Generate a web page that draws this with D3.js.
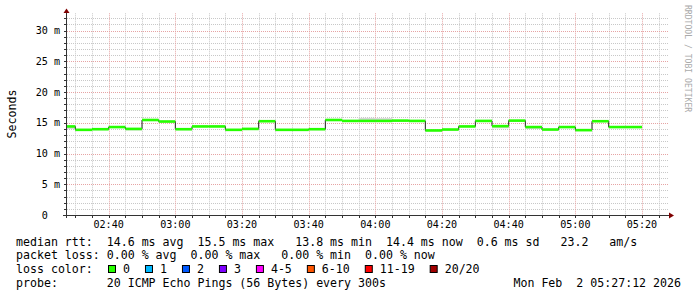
<!DOCTYPE html>
<html lang="en">
<head>
<meta charset="utf-8">
<script src="https://d3js.org/d3.v7.min.js"></script>
<style>
  body { margin: 0; background: #fff; }
  svg text { font-family: "DejaVu Sans Mono", monospace; white-space: pre; }
</style>
</head>
<body>
<svg width="697" height="297"></svg>
<script>
// 5 minute slots (start time of each step), median rtt in ms
const slots = ["02:25","02:30","02:35","02:40","02:45","02:50","02:55","03:00","03:05","03:10",
               "03:15","03:20","03:25","03:30","03:35","03:40","03:45","03:50","03:55","04:00",
               "04:05","04:10","04:15","04:20","04:25","04:30","04:35","04:40","04:45","04:50",
               "04:55","05:00","05:05","05:10","05:15"];
const median = [14.4, 13.85, 13.95, 14.3, 14.0, 15.45, 15.2, 13.95, 14.4, 14.4,
                13.85, 14.0, 15.25, 13.85, 13.85, 13.95, 15.45, 15.3, 15.3, 15.3,
                15.35, 15.3, 13.75, 13.9, 14.4, 15.3, 14.45, 15.35, 14.3, 13.9,
                14.3, 13.8, 15.25, 14.3, 14.3];
// smoke (spread of the pings) around the median
const smokeLo = [14.0, 13.75, 13.8, 14.2, 13.75, 15.35, 15.05, 13.8, 14.3, 14.3,
                 13.75, 13.9, 15.15, 13.75, 13.75, 13.8, 15.35, 15.2, 15.2, 15.2,
                 15.25, 15.2, 13.6, 13.75, 14.3, 15.2, 14.1, 15.2, 14.0, 13.75,
                 14.2, 13.7, 15.15, 14.2, 14.2];
const smokeHi = [14.5, 13.95, 14.1, 14.4, 14.1, 15.55, 15.35, 14.05, 14.5, 14.5,
                 13.95, 14.1, 15.35, 13.95, 13.95, 14.1, 15.55, 15.4, 15.8, 15.75,
                 15.45, 15.4, 13.85, 14.0, 14.5, 15.4, 14.55, 15.45, 14.4, 14.0,
                 14.4, 13.9, 15.4, 14.4, 14.4];

const yMajor = [0, 5, 10, 15, 20, 25, 30];
const yLabels = ["0  ", "5 m", "10 m", "15 m", "20 m", "25 m", "30 m"];

const lossLabels = ["0", "1", "2", "3", "4-5", "6-10", "11-19", "20/20"];
const lossColors = ["#26ff00", "#00b8ff", "#0059ff", "#7e00ff", "#ff00ff", "#ff5500", "#ff0000", "#a10000"];

const legendLines = [
  "median rtt:  14.6 ms avg  15.5 ms max   13.8 ms min  14.4 ms now  0.6 ms sd   23.2   am/s",
  "packet loss: 0.00 % avg  0.00 % max   0.00 % min  0.00 % now",
  "loss color:",
  "probe:       20 ICMP Echo Pings (56 Bytes) every 300s"
];
const stamp = "Mon Feb  2 05:27:12 2026";

const svg = d3.select("svg");
const t = s => { const [h, m] = s.split(":").map(Number); return new Date(Date.UTC(2026, 1, 2, h, m)); };
const start = new Date(Date.UTC(2026, 1, 2, 2, 27, 30));
const end = new Date(Date.UTC(2026, 1, 2, 5, 27, 30));

const left = 67, right = 667, bottom = 215;
const x = d3.scaleUtc().domain([start, end]).range([left, right]);
const y = d3.scaleLinear().domain([0, 32.8]).range([bottom, 13.3]);
const px = v => Math.round(v) + 0.5;

// grid
const grid = svg.append("g");
grid.selectAll("line.ymin")
  .data(d3.range(1, 33).filter(v => v % 5))
  .join("line")
  .attr("x1", left).attr("x2", right + 1)
  .attr("y1", d => px(y(d))).attr("y2", d => px(y(d)))
  .attr("stroke", "#c8c8c8").attr("stroke-dasharray", "1,1");
grid.selectAll("line.xmin")
  .data(d3.utcMinute.every(5).range(start, end).filter(d => d.getUTCMinutes() % 20))
  .join("line")
  .attr("x1", d => px(x(d))).attr("x2", d => px(x(d)))
  .attr("y1", y.range()[1]).attr("y2", bottom)
  .attr("stroke", "#c8c8c8").attr("stroke-dasharray", "1,1");
grid.selectAll("line.ymaj")
  .data(yMajor.slice(1))
  .join("line")
  .attr("x1", left).attr("x2", right + 1)
  .attr("y1", d => px(y(d))).attr("y2", d => px(y(d)))
  .attr("stroke", "#e6a4a4").attr("stroke-dasharray", "1,1");
const xMajor = d3.utcMinute.every(20).range(start, end);
grid.selectAll("line.xmaj")
  .data(xMajor)
  .join("line")
  .attr("x1", d => px(x(d))).attr("x2", d => px(x(d)))
  .attr("y1", y.range()[1]).attr("y2", bottom)
  .attr("stroke", "#e6a4a4").attr("stroke-dasharray", "1,1");

// data
const segs = slots.map((s, i) => {
  const t0 = t(s), t1 = new Date(+t0 + 300000);
  return { x0: Math.max(x(t0), left), x1: x(t1), v: median[i], lo: smokeLo[i], hi: smokeHi[i] };
});

svg.append("g").selectAll("rect")
  .data(segs)
  .join("rect")
  .attr("x", d => d.x0).attr("width", d => d.x1 - d.x0)
  .attr("y", d => y(d.hi)).attr("height", d => y(d.lo) - y(d.hi))
  .attr("fill", "#d6d6d6");

const pts = segs.map(d => [d.x0, y(d.v)]);
pts.push([segs[segs.length - 1].x1, y(median[median.length - 1])]);
svg.append("path")
  .attr("d", d3.line().curve(d3.curveStepAfter)(pts))
  .attr("fill", "none").attr("stroke", "#202020").attr("stroke-width", 1);

svg.append("g").selectAll("rect")
  .data(segs)
  .join("rect")
  .attr("x", d => d.x0).attr("width", d => d.x1 - d.x0)
  .attr("y", d => y(d.v) - 1.3).attr("height", 2.6)
  .attr("fill", lossColors[0]);

// axes
const axisCol = "#333";
svg.append("line").attr("x1", 63).attr("x2", 670).attr("y1", bottom + 0.5).attr("y2", bottom + 0.5).attr("stroke", axisCol);
svg.append("line").attr("x1", left - 0.5).attr("x2", left - 0.5).attr("y1", 12).attr("y2", bottom + 3).attr("stroke", axisCol);
svg.append("path").attr("d", "M63.5,13L69.5,13L66.5,8.5Z").attr("fill", "#7f0000");
svg.append("path").attr("d", "M669,212.5L669,218.5L674,215.5Z").attr("fill", "#7f0000");

svg.append("g").selectAll("line")
  .data(d3.utcMinute.every(5).range(start, end))
  .join("line")
  .attr("x1", d => px(x(d))).attr("x2", d => px(x(d)))
  .attr("y1", bottom).attr("y2", bottom + 3)
  .attr("stroke", axisCol);
svg.append("g").selectAll("line")
  .data(d3.range(1, 33))
  .join("line")
  .attr("x1", left - 3).attr("x2", left)
  .attr("y1", d => px(y(d))).attr("y2", d => px(y(d)))
  .attr("stroke", axisCol);

svg.append("g").selectAll("text")
  .data(xMajor)
  .join("text")
  .attr("x", d => x(d)).attr("y", 227.5)
  .attr("text-anchor", "middle").attr("font-size", "10.1px")
  .text(d => d3.utcFormat("%H:%M")(d));

svg.append("g").selectAll("text")
  .data(yMajor)
  .join("text")
  .attr("x", 60).attr("y", d => y(d) + 3.6)
  .attr("text-anchor", "end").attr("font-size", "10.1px")
  .text((d, i) => yLabels[i]);

svg.append("text")
  .attr("transform", "translate(15.5,114) rotate(-90)")
  .attr("text-anchor", "middle").attr("font-size", "11.6px")
  .text("Seconds");

svg.append("text")
  .attr("transform", "translate(685,5) rotate(90)")
  .attr("font-size", "8.1px").attr("fill", "#aaa")
  .text("RRDTOOL / TOBI OETIKER");

// legend
const base = [245.5, 259.3, 273, 286.8];
svg.append("g").selectAll("text")
  .data(legendLines)
  .join("text")
  .attr("x", 16).attr("y", (d, i) => base[i])
  .attr("font-size", "11.6px")
  .text(d => d);

svg.append("text")
  .attr("x", 681).attr("y", base[3])
  .attr("text-anchor", "end").attr("font-size", "11.6px")
  .text(stamp);

const cw = 6.98;
let bx = 108;
const items = lossLabels.map(l => { const o = { l, x: bx }; bx += 30 + cw * l.length; return o; });
const lg = svg.append("g").selectAll("g")
  .data(items)
  .join("g");
lg.append("rect")
  .attr("x", d => d.x + 0.5).attr("y", 265.5).attr("width", 7).attr("height", 7)
  .attr("fill", (d, i) => lossColors[i]).attr("stroke", "#000");
lg.append("text")
  .attr("x", d => d.x + 15).attr("y", base[2])
  .attr("font-size", "11.6px")
  .text(d => d.l);
</script>
</body>
</html>
